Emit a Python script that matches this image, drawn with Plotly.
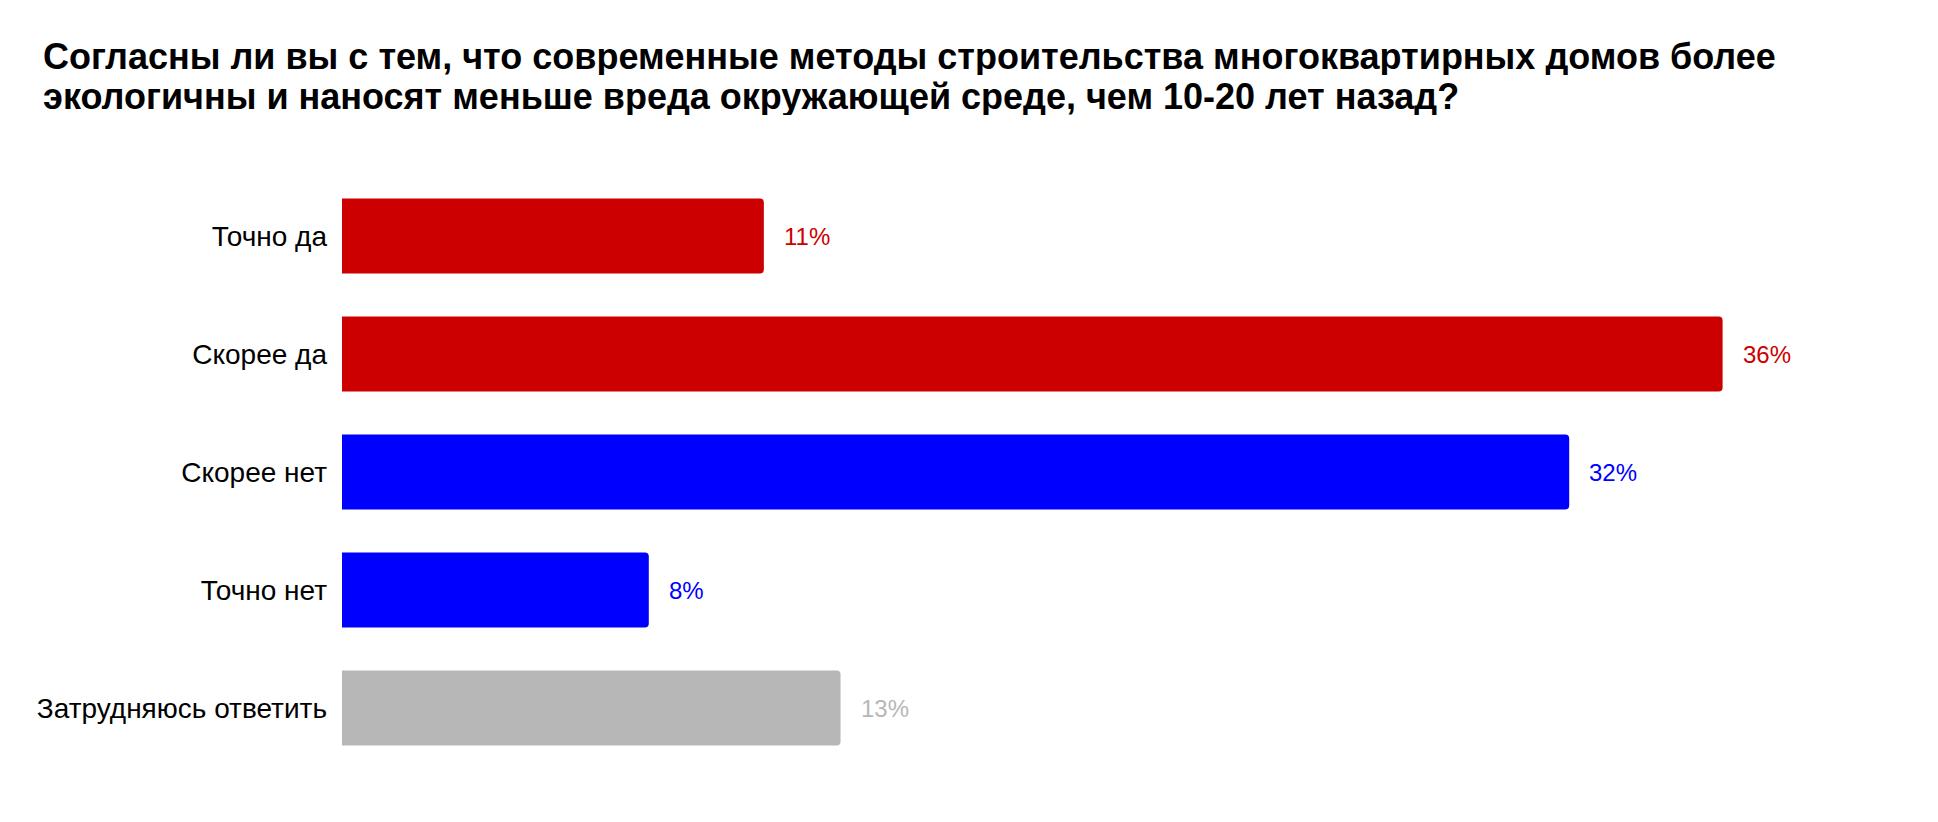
import plotly.graph_objects as go

# survey answers, top to bottom
categories = ["Точно да", "Скорее да", "Скорее нет", "Точно нет", "Затрудняюсь ответить"]
values = [11, 36, 32, 8, 13]
bar_colors = ["#CC0000", "#CC0000", "#0000FF", "#0000FF", "#B7B7B7"]

title_lines = [
    "Согласны ли вы с тем, что современные методы строительства многоквартирных домов более",
    "экологичны и наносят меньше вреда окружающей среде, чем 10-20 лет назад?",
]

FONT = "Liberation Sans, Arial, Helvetica, sans-serif"

# figure geometry (px)
W, H = 1938, 822
L, R, T, B = 334, 70, 169, 63
plot_w = W - L - R
plot_h = H - T - B

fig = go.Figure()
fig.add_trace(go.Bar(
    x=values,
    y=categories,
    orientation="h",
    marker=dict(color=bar_colors, cornerradius=4, line=dict(width=0)),
    hoverinfo="skip",
))

# value labels right of each bar
annotations = []
for cat, val, col in zip(categories, values, bar_colors):
    annotations.append(dict(
        x=val, y=cat, xref="x", yref="y",
        text=f"{val}%", showarrow=False,
        xanchor="left", yanchor="middle", xshift=18,
        font=dict(family=FONT, size=24, color=col),
    ))

# two-line title, drawn as separate lines to keep the tight leading
title_x = 33
title_y = [48, 88]
for line, py in zip(title_lines, title_y):
    annotations.append(dict(
        x=(title_x - L) / plot_w, y=(H - B - py) / plot_h,
        xref="paper", yref="paper",
        text=f"<b>{line}</b>", showarrow=False,
        xanchor="left", yanchor="middle", height=38, valign="middle",
        font=dict(family=FONT, size=36, color="#000000"),
    ))

fig.update_layout(
    width=W,
    height=H,
    margin=dict(l=L, r=R, t=T, b=B),
    paper_bgcolor="white",
    plot_bgcolor="white",
    showlegend=False,
    bargap=0.365,
    font=dict(family=FONT, color="#000000"),
    annotations=annotations,
)
fig.update_xaxes(range=[0, 40], visible=False, fixedrange=True)
fig.update_yaxes(
    autorange="reversed",
    showgrid=False, showline=False, zeroline=False,
    ticks="", ticklabelstandoff=14,
    tickfont=dict(family=FONT, size=28, color="#000000"),
    fixedrange=True,
)

fig.write_html("out.html")
